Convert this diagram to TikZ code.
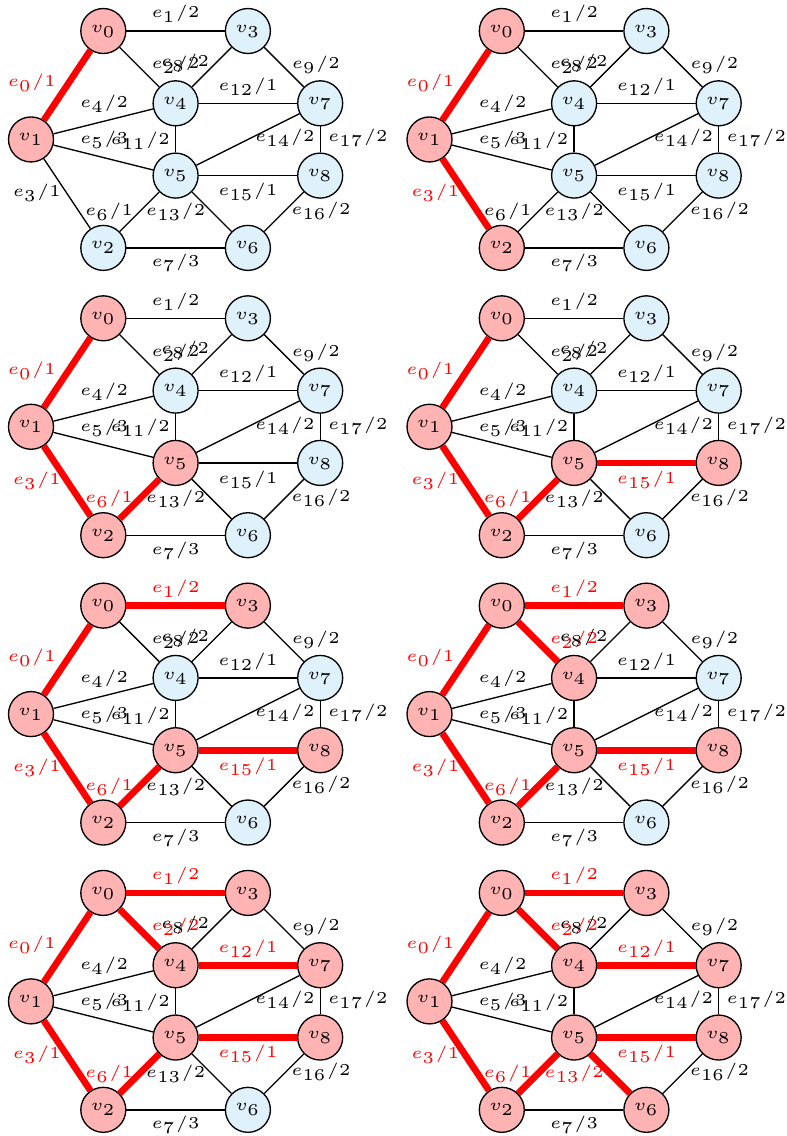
\documentclass[tikz,border=0pt]{standalone}
\usepackage{amsmath}
\usepackage{xcolor}
\usepackage{tikz}

\definecolor{vblue}{RGB}{223,241,250}
\definecolor{vpink}{RGB}{255,179,179}

\tikzset{
  vtx/.style={draw, circle, fill=vblue, minimum size=13.5pt, inner sep=0pt, font=\tiny},
  intree/.style={fill=vpink},
  link/.style={draw, line width=0.4pt},
  treeedge/.style={draw=red, line width=2pt},
  wlabel/.style={font=\tiny, inner sep=1pt},
  treelabel/.style={text=red},
  % nothing highlighted by default
  nd0/.style={}, nd1/.style={}, nd2/.style={}, nd3/.style={}, nd4/.style={},
  nd5/.style={}, nd6/.style={}, nd7/.style={}, nd8/.style={},
  ed0/.style={}, ed1/.style={}, ed2/.style={}, ed3/.style={}, ed4/.style={},
  ed5/.style={}, ed6/.style={}, ed7/.style={}, ed8/.style={}, ed9/.style={},
  ed11/.style={}, ed12/.style={}, ed13/.style={}, ed14/.style={}, ed15/.style={},
  ed16/.style={}, ed17/.style={},
  lb0/.style={}, lb1/.style={}, lb2/.style={}, lb3/.style={}, lb4/.style={},
  lb5/.style={}, lb6/.style={}, lb7/.style={}, lb8/.style={}, lb9/.style={},
  lb11/.style={}, lb12/.style={}, lb13/.style={}, lb14/.style={}, lb15/.style={},
  lb16/.style={}, lb17/.style={},
  % tree growth
  start/.style={nd0/.style=intree},
  grow/.style 2 args={nd#1/.style=intree, ed#2/.style=treeedge, lb#2/.style=treelabel},
}

\newcommand{\mstgraph}{%
  % vertices
  \node[vtx, nd0] (v0) at (1,3)   {$v_{0}$};
  \node[vtx, nd1] (v1) at (0,1.5) {$v_{1}$};
  \node[vtx, nd2] (v2) at (1,0)   {$v_{2}$};
  \node[vtx, nd3] (v3) at (3,3)   {$v_{3}$};
  \node[vtx, nd4] (v4) at (2,2)   {$v_{4}$};
  \node[vtx, nd5] (v5) at (2,1)   {$v_{5}$};
  \node[vtx, nd6] (v6) at (3,0)   {$v_{6}$};
  \node[vtx, nd7] (v7) at (4,2)   {$v_{7}$};
  \node[vtx, nd8] (v8) at (4,1)   {$v_{8}$};
  % edges
  \draw[link, ed0]  (v0) -- (v1);
  \draw[link, ed1]  (v0) -- (v3);
  \draw[link, ed2]  (v0) -- (v4);
  \draw[link, ed3]  (v1) -- (v2);
  \draw[link, ed4]  (v1) -- (v4);
  \draw[link, ed5]  (v1) -- (v5);
  \draw[link, ed6]  (v2) -- (v5);
  \draw[link, ed7]  (v2) -- (v6);
  \draw[link, ed8]  (v3) -- (v4);
  \draw[link, ed9]  (v3) -- (v7);
  \draw[link, ed11] (v4) -- (v5);
  \draw[link, ed12] (v4) -- (v7);
  \draw[link, ed13] (v5) -- (v6);
  \draw[link, ed14] (v5) -- (v7);
  \draw[link, ed15] (v5) -- (v8);
  \draw[link, ed16] (v6) -- (v8);
  \draw[link, ed17] (v7) -- (v8);
  % weights
  \node[wlabel, lb0]  (w0)  at (0.01,2.28)  {$e_{0}/1$};
  \node[wlabel, lb1]  (w1)  at (2.0,3.235)  {$e_{1}/2$};
  \node[wlabel, lb2]  (w2)  at (2.0,2.53)   {$e_{2}/2$};
  \node[wlabel, lb3]  (w3)  at (0.08,0.76)  {$e_{3}/1$};
  \node[wlabel, lb4]  (w4)  at (1.01,1.99)  {$e_{4}/2$};
  \node[wlabel, lb5]  (w5)  at (1.01,1.49)  {$e_{5}/3$};
  \node[wlabel, lb6]  (w6)  at (1.08,0.5)   {$e_{6}/1$};
  \node[wlabel, lb7]  (w7)  at (2.0,-0.21)  {$e_{7}/3$};
  \node[wlabel, lb8]  (w8)  at (2.13,2.56)  {$e_{8}/2$};
  \node[wlabel, lb9]  (w9)  at (3.94,2.53)  {$e_{9}/2$};
  \node[wlabel, lb11] (w11) at (1.51,1.48)  {$e_{11}/2$};
  \node[wlabel, lb12] (w12) at (3.0,2.23)   {$e_{12}/1$};
  \node[wlabel, lb13] (w13) at (2.0,0.5)    {$e_{13}/2$};
  \node[wlabel, lb14] (w14) at (3.51,1.52)  {$e_{14}/2$};
  \node[wlabel, lb15] (w15) at (3.0,0.77)   {$e_{15}/1$};
  \node[wlabel, lb16] (w16) at (4.01,0.52)  {$e_{16}/2$};
  \node[wlabel, lb17] (w17) at (4.52,1.52)  {$e_{17}/2$};
}

\begin{document}
\begin{tikzpicture}[x=21.69pt, y=21.69pt]
  \useasboundingbox (-0.4288,-12.284) rectangle (10.456,3.4288);

  % Step 1 and 2
  \begin{scope}[shift={(0,0)}, start, grow={1}{0}]
    \mstgraph
  \end{scope}
  \begin{scope}[shift={(5.512,0)}, start, grow={1}{0}, grow={2}{3}]
    \mstgraph
  \end{scope}

  % Step 3 and 4
  \begin{scope}[shift={(0,-3.974)}, start, grow={1}{0}, grow={2}{3}, grow={5}{6}]
    \mstgraph
  \end{scope}
  \begin{scope}[shift={(5.512,-3.974)}, start, grow={1}{0}, grow={2}{3}, grow={5}{6},
      grow={8}{15}]
    \mstgraph
  \end{scope}

  % Step 5 and 6
  \begin{scope}[shift={(0,-7.948)}, start, grow={1}{0}, grow={2}{3}, grow={5}{6},
      grow={8}{15}, grow={3}{1}]
    \mstgraph
  \end{scope}
  \begin{scope}[shift={(5.512,-7.948)}, start, grow={1}{0}, grow={2}{3}, grow={5}{6},
      grow={8}{15}, grow={3}{1}, grow={4}{2}]
    \mstgraph
  \end{scope}

  % Step 7 and 8
  \begin{scope}[shift={(0,-11.922)}, start, grow={1}{0}, grow={2}{3}, grow={5}{6},
      grow={8}{15}, grow={3}{1}, grow={4}{2}, grow={7}{12}]
    \mstgraph
  \end{scope}
  \begin{scope}[shift={(5.512,-11.922)}, start, grow={1}{0}, grow={2}{3}, grow={5}{6},
      grow={8}{15}, grow={3}{1}, grow={4}{2}, grow={7}{12}, grow={6}{13}]
    \mstgraph
  \end{scope}
\end{tikzpicture}
\end{document}
